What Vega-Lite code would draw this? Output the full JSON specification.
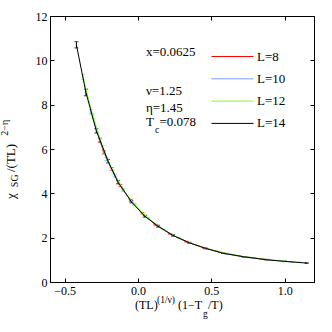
{
  "$schema": "https://vega.github.io/schema/vega-lite/v6.json",
  "width": 264,
  "height": 266,
  "autosize": "none",
  "padding": {"left": 50, "top": 16, "right": 18, "bottom": 50},
  "background": "white",
  "config": {
    "view": {"stroke": "black", "strokeWidth": 1},
    "font": "Liberation Serif",
    "axis": {
      "labelFont": "Liberation Serif",
      "labelFontSize": 12,
      "labelColor": "black",
      "tickColor": "black",
      "domainColor": "black",
      "domainWidth": 1,
      "tickWidth": 1,
      "grid": false
    }
  },
  "datasets": {
    "series": [
      {"L": "L=8", "x": -0.26, "y": 6.38, "e": 0.08},
      {"L": "L=8", "x": -0.232, "y": 5.85, "e": 0.07},
      {"L": "L=8", "x": -0.18, "y": 5.1, "e": 0.06},
      {"L": "L=8", "x": -0.12, "y": 4.35, "e": 0.05},
      {"L": "L=8", "x": -0.05, "y": 3.68, "e": 0.04},
      {"L": "L=8", "x": 0.03, "y": 3.1, "e": 0.03},
      {"L": "L=8", "x": 0.12, "y": 2.58, "e": 0.02},
      {"L": "L=8", "x": 0.22, "y": 2.17, "e": 0.02},
      {"L": "L=8", "x": 0.33, "y": 1.82, "e": 0.02},
      {"L": "L=8", "x": 0.45, "y": 1.54, "e": 0.01},
      {"L": "L=8", "x": 0.58, "y": 1.3, "e": 0.01},
      {"L": "L=8", "x": 0.72, "y": 1.14, "e": 0.01},
      {"L": "L=8", "x": 0.88, "y": 1.01, "e": 0.01},
      {"L": "L=10", "x": -0.322, "y": 7.68, "e": 0.1},
      {"L": "L=10", "x": -0.262, "y": 6.42, "e": 0.08},
      {"L": "L=10", "x": -0.215, "y": 5.55, "e": 0.07},
      {"L": "L=10", "x": -0.159, "y": 4.8, "e": 0.06},
      {"L": "L=10", "x": -0.102, "y": 4.15, "e": 0.05},
      {"L": "L=10", "x": -0.03, "y": 3.52, "e": 0.04},
      {"L": "L=10", "x": 0.05, "y": 2.97, "e": 0.03},
      {"L": "L=10", "x": 0.14, "y": 2.5, "e": 0.02},
      {"L": "L=10", "x": 0.24, "y": 2.1, "e": 0.02},
      {"L": "L=10", "x": 0.35, "y": 1.77, "e": 0.02},
      {"L": "L=10", "x": 0.47, "y": 1.5, "e": 0.01},
      {"L": "L=10", "x": 0.6, "y": 1.27, "e": 0.01},
      {"L": "L=10", "x": 0.75, "y": 1.11, "e": 0.01},
      {"L": "L=10", "x": 0.9, "y": 0.99, "e": 0.01},
      {"L": "L=10", "x": 1.05, "y": 0.905, "e": 0.01},
      {"L": "L=12", "x": -0.375, "y": 9.25, "e": 0.12},
      {"L": "L=12", "x": -0.307, "y": 7.48, "e": 0.1},
      {"L": "L=12", "x": -0.24, "y": 6.08, "e": 0.08},
      {"L": "L=12", "x": -0.17, "y": 4.98, "e": 0.06},
      {"L": "L=12", "x": -0.1, "y": 4.16, "e": 0.05},
      {"L": "L=12", "x": -0.02, "y": 3.47, "e": 0.04},
      {"L": "L=12", "x": 0.07, "y": 2.88, "e": 0.03},
      {"L": "L=12", "x": 0.17, "y": 2.38, "e": 0.02},
      {"L": "L=12", "x": 0.28, "y": 1.97, "e": 0.02},
      {"L": "L=12", "x": 0.4, "y": 1.65, "e": 0.01},
      {"L": "L=12", "x": 0.53, "y": 1.4, "e": 0.01},
      {"L": "L=12", "x": 0.68, "y": 1.19, "e": 0.01},
      {"L": "L=12", "x": 0.84, "y": 1.04, "e": 0.01},
      {"L": "L=12", "x": 1.0, "y": 0.935, "e": 0.01},
      {"L": "L=12", "x": 1.1, "y": 0.885, "e": 0.01},
      {"L": "L=14", "x": -0.42, "y": 10.7, "e": 0.14},
      {"L": "L=14", "x": -0.355, "y": 8.55, "e": 0.15},
      {"L": "L=14", "x": -0.284, "y": 6.82, "e": 0.1},
      {"L": "L=14", "x": -0.204, "y": 5.45, "e": 0.08},
      {"L": "L=14", "x": -0.136, "y": 4.5, "e": 0.07},
      {"L": "L=14", "x": -0.045, "y": 3.62, "e": 0.05},
      {"L": "L=14", "x": 0.046, "y": 2.97, "e": 0.04},
      {"L": "L=14", "x": 0.136, "y": 2.52, "e": 0.04},
      {"L": "L=14", "x": 0.239, "y": 2.1, "e": 0.03},
      {"L": "L=14", "x": 0.35, "y": 1.77, "e": 0.02},
      {"L": "L=14", "x": 0.46, "y": 1.52, "e": 0.02},
      {"L": "L=14", "x": 0.58, "y": 1.3, "e": 0.01},
      {"L": "L=14", "x": 0.72, "y": 1.14, "e": 0.01},
      {"L": "L=14", "x": 0.87, "y": 1.01, "e": 0.01},
      {"L": "L=14", "x": 1.0, "y": 0.93, "e": 0.01},
      {"L": "L=14", "x": 1.15, "y": 0.855, "e": 0.01}
    ],
    "notes": [
      {"text": "x=0.0625", "x": 0.0545, "y": 10.2, "kind": "big"},
      {"text": "ν=1.25", "x": 0.0545, "y": 8.42, "kind": "big"},
      {"text": "η=1.45", "x": 0.0545, "y": 7.68, "kind": "big"},
      {"text": "T", "x": 0.0545, "y": 7.04, "kind": "big"},
      {"text": "c", "x": 0.1159, "y": 6.74, "kind": "small"},
      {"text": "=0.078", "x": 0.1466, "y": 7.04, "kind": "big"},
      {"text": "(TL)", "x": -0.0205, "y": -1.2406, "kind": "mid"},
      {"text": "(1/ν)", "x": 0.1295, "y": -0.934, "kind": "small"},
      {"text": "(1−T", "x": 0.2727, "y": -1.2406, "kind": "mid"},
      {"text": "g", "x": 0.4432, "y": -1.565, "kind": "small"},
      {"text": "/T)", "x": 0.4773, "y": -1.2406, "kind": "mid"}
    ],
    "ytitle": [
      {"text": "χ", "x": -0.8386, "y": 3.74, "kind": "big"},
      {"text": "SG", "x": -0.8148, "y": 4.28, "kind": "small"},
      {"text": "/(TL)", "x": -0.8386, "y": 4.96, "kind": "big"},
      {"text": "2−η", "x": -0.8864, "y": 6.6, "kind": "small"}
    ]
  },
  "layer": [
    {
      "data": {"name": "series"},
      "mark": {"type": "errorbar", "ticks": {"size": 4}, "thickness": 1},
      "encoding": {
        "x": {
          "field": "x", "type": "quantitative",
          "scale": {"domain": [-0.6, 1.2], "nice": false, "zero": false},
          "axis": {"orient": "top", "values": [-0.5, 0, 0.5, 1], "labels": false, "title": null, "tickSize": -4, "domain": false}
        },
        "y": {
          "field": "y", "type": "quantitative",
          "scale": {"domain": [0, 12], "nice": false, "zero": false},
          "axis": {"orient": "right", "values": [0, 2, 4, 6, 8, 10, 12], "labels": false, "title": null, "tickSize": -4, "domain": false}
        },
        "yError": {"field": "e"},
        "color": {
          "field": "L", "type": "nominal",
          "scale": {"domain": ["L=8", "L=10", "L=12", "L=14"], "range": ["#ff0000", "#7f9cff", "#80ff33", "#000000"]},
          "legend": null
        }
      }
    },
    {
      "data": {"name": "series"},
      "mark": {"type": "line", "strokeWidth": 1},
      "encoding": {
        "x": {
          "field": "x", "type": "quantitative",
          "axis": {"orient": "bottom", "values": [-0.5, 0, 0.5, 1], "title": null, "tickSize": -4, "labelPadding": 7}
        },
        "y": {
          "field": "y", "type": "quantitative",
          "axis": {"orient": "left", "values": [0, 2, 4, 6, 8, 10, 12], "title": null, "tickSize": -4, "labelPadding": 7, "format": "d"}
        },
        "color": {
          "field": "L", "type": "nominal",
          "legend": {
            "orient": "none", "legendX": 176, "legendY": 34, "title": null,
            "symbolType": "M-4,0H4", "symbolSize": 110, "symbolStrokeWidth": 1,
            "labelFont": "Liberation Serif", "labelFontSize": 13, "labelColor": "black",
            "labelOffset": 18, "rowPadding": 8.3, "padding": 0
          }
        }
      }
    },
    {
      "data": {"name": "notes"},
      "transform": [{"filter": "datum.kind === 'big'"}],
      "mark": {"type": "text", "align": "left", "baseline": "alphabetic", "fontSize": 13, "font": "Liberation Serif", "color": "black"},
      "encoding": {
        "x": {"field": "x", "type": "quantitative", "axis": null},
        "y": {"field": "y", "type": "quantitative", "axis": null},
        "text": {"field": "text"}
      }
    },
    {
      "data": {"name": "notes"},
      "transform": [{"filter": "datum.kind === 'mid'"}],
      "mark": {"type": "text", "align": "left", "baseline": "alphabetic", "fontSize": 12, "font": "Liberation Serif", "color": "black"},
      "encoding": {
        "x": {"field": "x", "type": "quantitative", "axis": null},
        "y": {"field": "y", "type": "quantitative", "axis": null},
        "text": {"field": "text"}
      }
    },
    {
      "data": {"name": "notes"},
      "transform": [{"filter": "datum.kind === 'small'"}],
      "mark": {"type": "text", "align": "left", "baseline": "alphabetic", "fontSize": 9.5, "font": "Liberation Serif", "color": "black"},
      "encoding": {
        "x": {"field": "x", "type": "quantitative", "axis": null},
        "y": {"field": "y", "type": "quantitative", "axis": null},
        "text": {"field": "text"}
      }
    },
    {
      "data": {"name": "ytitle"},
      "transform": [{"filter": "datum.kind === 'big'"}],
      "mark": {"type": "text", "align": "left", "baseline": "alphabetic", "angle": 270, "fontSize": 13, "font": "Liberation Serif", "color": "black"},
      "encoding": {
        "x": {"field": "x", "type": "quantitative", "axis": null},
        "y": {"field": "y", "type": "quantitative", "axis": null},
        "text": {"field": "text"}
      }
    },
    {
      "data": {"name": "ytitle"},
      "transform": [{"filter": "datum.kind === 'small'"}],
      "mark": {"type": "text", "align": "left", "baseline": "alphabetic", "angle": 270, "fontSize": 10, "font": "Liberation Serif", "color": "black"},
      "encoding": {
        "x": {"field": "x", "type": "quantitative", "axis": null},
        "y": {"field": "y", "type": "quantitative", "axis": null},
        "text": {"field": "text"}
      }
    }
  ],
  "resolve": {"axis": {"x": "independent", "y": "independent"}, "legend": {"color": "independent"}}
}
